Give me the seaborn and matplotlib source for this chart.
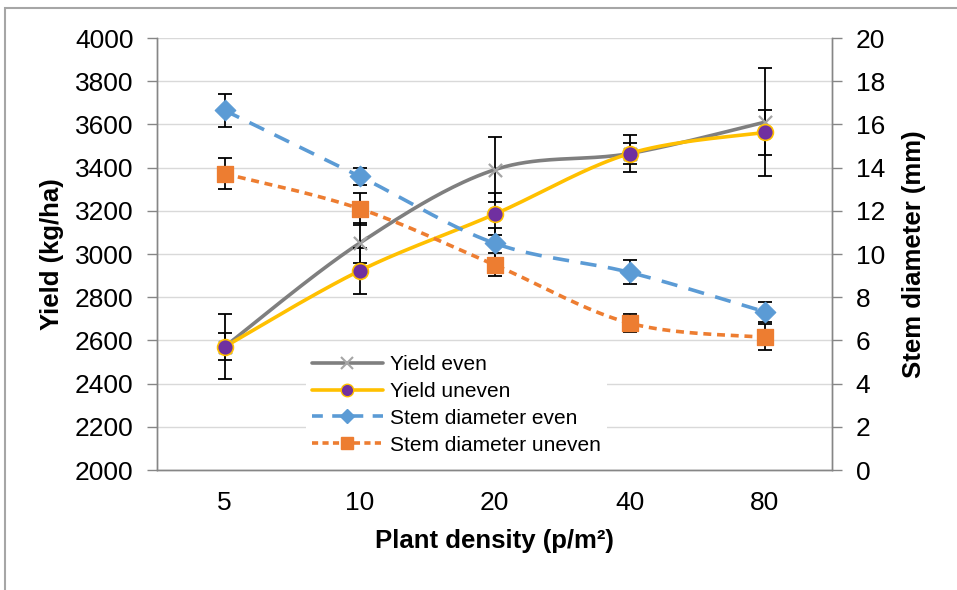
import numpy as np
import pandas as pd
import matplotlib
matplotlib.use("Agg")
import matplotlib.pyplot as plt
from matplotlib.lines import Line2D
from matplotlib.patches import Rectangle
import seaborn as sns

# -----------------------------
# Data
# -----------------------------
density = ["5", "10", "20", "40", "80"]

yield_even = [2570, 3050, 3390, 3465, 3610]
yield_uneven = [2570, 2922, 3184, 3465, 3563]
stem_even = [16.65, 13.6, 10.5, 9.15, 7.33]
stem_uneven = [13.72, 12.1, 9.5, 6.8, 6.14]

yield_even_err = [150, 92, 150, 85, 250]
yield_uneven_err = [62, 107, 97, 50, 104]
stem_even_err = [0.77, 0.4, 0.7, 0.56, 0.46]
stem_uneven_err = [0.72, 0.74, 0.54, 0.4, 0.6]


def smooth(ys, n=40):
    # Excel-like smoothed line: cubic Bezier with Catmull-Rom control points
    xs = np.arange(len(ys), dtype=float)
    pts = np.column_stack([xs, np.asarray(ys, dtype=float)])
    out = []
    for i in range(len(pts) - 1):
        p0 = pts[max(i - 1, 0)]
        p1 = pts[i]
        p2 = pts[i + 1]
        p3 = pts[min(i + 2, len(pts) - 1)]
        c1 = p1 + (p2 - p0) / 6
        c2 = p2 - (p3 - p1) / 6
        t = np.linspace(0, 1, n)[:, None]
        seg = ((1 - t) ** 3) * p1 + 3 * ((1 - t) ** 2) * t * c1 + 3 * (1 - t) * t ** 2 * c2 + t ** 3 * p2
        out.append(seg if i == 0 else seg[1:])
    seg = np.vstack(out)
    return pd.DataFrame({"x": seg[:, 0], "y": seg[:, 1]})


sns.set_theme(style="white")
plt.rcParams["font.family"] = ["Liberation Sans", "DejaVu Sans"]
plt.rcParams["text.color"] = "black"
plt.rcParams["axes.labelcolor"] = "black"

fig = plt.figure(figsize=(9.57, 5.90), dpi=100)
ax = fig.add_axes([157 / 957, 120 / 590, 675 / 957, 432 / 590])
ax2 = ax.twinx()

xpos = np.arange(len(density))

# colours
c_gray, c_gray_m = "#7f7f7f", "#a5a5a5"
c_gold, c_purple = "#FFC000", "#7030A0"
c_blue, c_orange = "#5B9BD5", "#ED7D31"
axis_col = "#868686"

# -----------------------------
# Yield (left axis)
# -----------------------------
sns.lineplot(data=smooth(yield_even), x="x", y="y", ax=ax, color=c_gray, lw=2.6,
             errorbar=None, zorder=3)
sns.lineplot(data=smooth(yield_uneven), x="x", y="y", ax=ax, color=c_gold, lw=2.6,
             errorbar=None, zorder=3)
ax.errorbar(xpos, yield_even, yerr=yield_even_err, fmt="none", ecolor="black",
            elinewidth=1.3, capsize=5, capthick=1.3, zorder=4)
ax.errorbar(xpos, yield_uneven, yerr=yield_uneven_err, fmt="none", ecolor="black",
            elinewidth=1.3, capsize=5, capthick=1.3, zorder=4)
sns.scatterplot(x=xpos, y=yield_even, ax=ax, marker="x", s=90, color=c_gray_m,
                linewidth=1.6, zorder=5)
sns.scatterplot(x=xpos, y=yield_uneven, ax=ax, marker="o", s=130, color=c_purple,
                edgecolor=c_gold, linewidth=1.2, zorder=5)

# -----------------------------
# Stem diameter (right axis)
# -----------------------------
sns.lineplot(data=smooth(stem_even), x="x", y="y", ax=ax2, color=c_blue, lw=2.6,
             linestyle=(0, (4.5, 3.2)), errorbar=None, zorder=3)
sns.lineplot(data=smooth(stem_uneven), x="x", y="y", ax=ax2, color=c_orange, lw=2.6,
             linestyle=(0, (2.2, 1.6)), errorbar=None, zorder=3)
ax2.errorbar(xpos, stem_even, yerr=stem_even_err, fmt="none", ecolor="black",
             elinewidth=1.3, capsize=5, capthick=1.3, zorder=4)
ax2.errorbar(xpos, stem_uneven, yerr=stem_uneven_err, fmt="none", ecolor="black",
             elinewidth=1.3, capsize=5, capthick=1.3, zorder=4)
sns.scatterplot(x=xpos, y=stem_even, ax=ax2, marker="D", s=110, color=c_blue,
                edgecolor=c_blue, zorder=5)
sns.scatterplot(x=xpos, y=stem_uneven, ax=ax2, marker="s", s=140, color=c_orange,
                edgecolor=c_orange, zorder=5)

# -----------------------------
# Axes styling
# -----------------------------
ax.set_xlim(-0.5, len(density) - 0.5)
ax.set_ylim(2000, 4000)
ax.set_yticks(np.arange(2000, 4001, 200))
ax2.set_ylim(0, 20)
ax2.set_yticks(np.arange(0, 21, 2))

ax.set_xticks(xpos)
ax.set_xticklabels(density)
ax.set_xticks(np.arange(-0.5, len(density)), minor=True)
ax.tick_params(axis="x", which="major", length=0, pad=15, labelsize=19, colors="black")
ax.tick_params(axis="x", which="minor", length=7, width=1, color=axis_col, direction="out")
ax.tick_params(axis="y", length=7, width=1, color=axis_col, pad=10, labelsize=19,
               labelcolor="black", direction="out", left=True)
ax2.tick_params(axis="y", length=7, width=1, color=axis_col, pad=10, labelsize=19,
                labelcolor="black", direction="out", right=True)

ax.grid(axis="y", color="#d9d9d9", lw=1)
ax.set_axisbelow(True)

for a in (ax, ax2):
    a.spines["top"].set_visible(False)
    for s in ("left", "right", "bottom"):
        a.spines[s].set_color(axis_col)
        a.spines[s].set_linewidth(1)

ax.set_xlabel("Plant density (p/m²)", fontsize=18.5, fontweight="bold", labelpad=10)
ax.set_ylabel("Yield (kg/ha)", fontsize=18.5, fontweight="bold", labelpad=8)
ax2.set_ylabel("Stem diameter (mm)", fontsize=18.5, fontweight="bold", labelpad=12)

# -----------------------------
# Legend
# -----------------------------
handles = [
    Line2D([], [], color=c_gray, lw=2.6, marker="x", ms=8, mec=c_gray_m, mew=1.5),
    Line2D([], [], color=c_gold, lw=2.6, marker="o", ms=9, mfc=c_purple, mec=c_gold),
    Line2D([], [], color=c_blue, lw=2.6, ls=(0, (3.0, 2.6)), marker="D", ms=7, mfc=c_blue, mec=c_blue),
    Line2D([], [], color=c_orange, lw=2.6, ls=(0, (1.7, 1.2)), marker="s", ms=8.5, mfc=c_orange, mec=c_orange),
]
labels = ["Yield even", "Yield uneven", "Stem diameter even", "Stem diameter uneven"]
leg = ax2.legend(handles, labels, loc="upper left", bbox_to_anchor=(0.205, 0.305),
                 fontsize=15, frameon=True, facecolor="white", edgecolor="none",
                 framealpha=1, handlelength=3.4, handletextpad=0.35, labelspacing=0.38,
                 borderpad=0.3, fancybox=False)
leg.set_zorder(10)

# chart area border (partly visible at left/top)
fig.patches.append(Rectangle((5 / 957, -0.1), 1.2, 0.1 + 582 / 590, fill=False,
                             edgecolor="#a6a6a6", lw=1.5, transform=fig.transFigure))

fig.savefig("out.png", dpi=100)
